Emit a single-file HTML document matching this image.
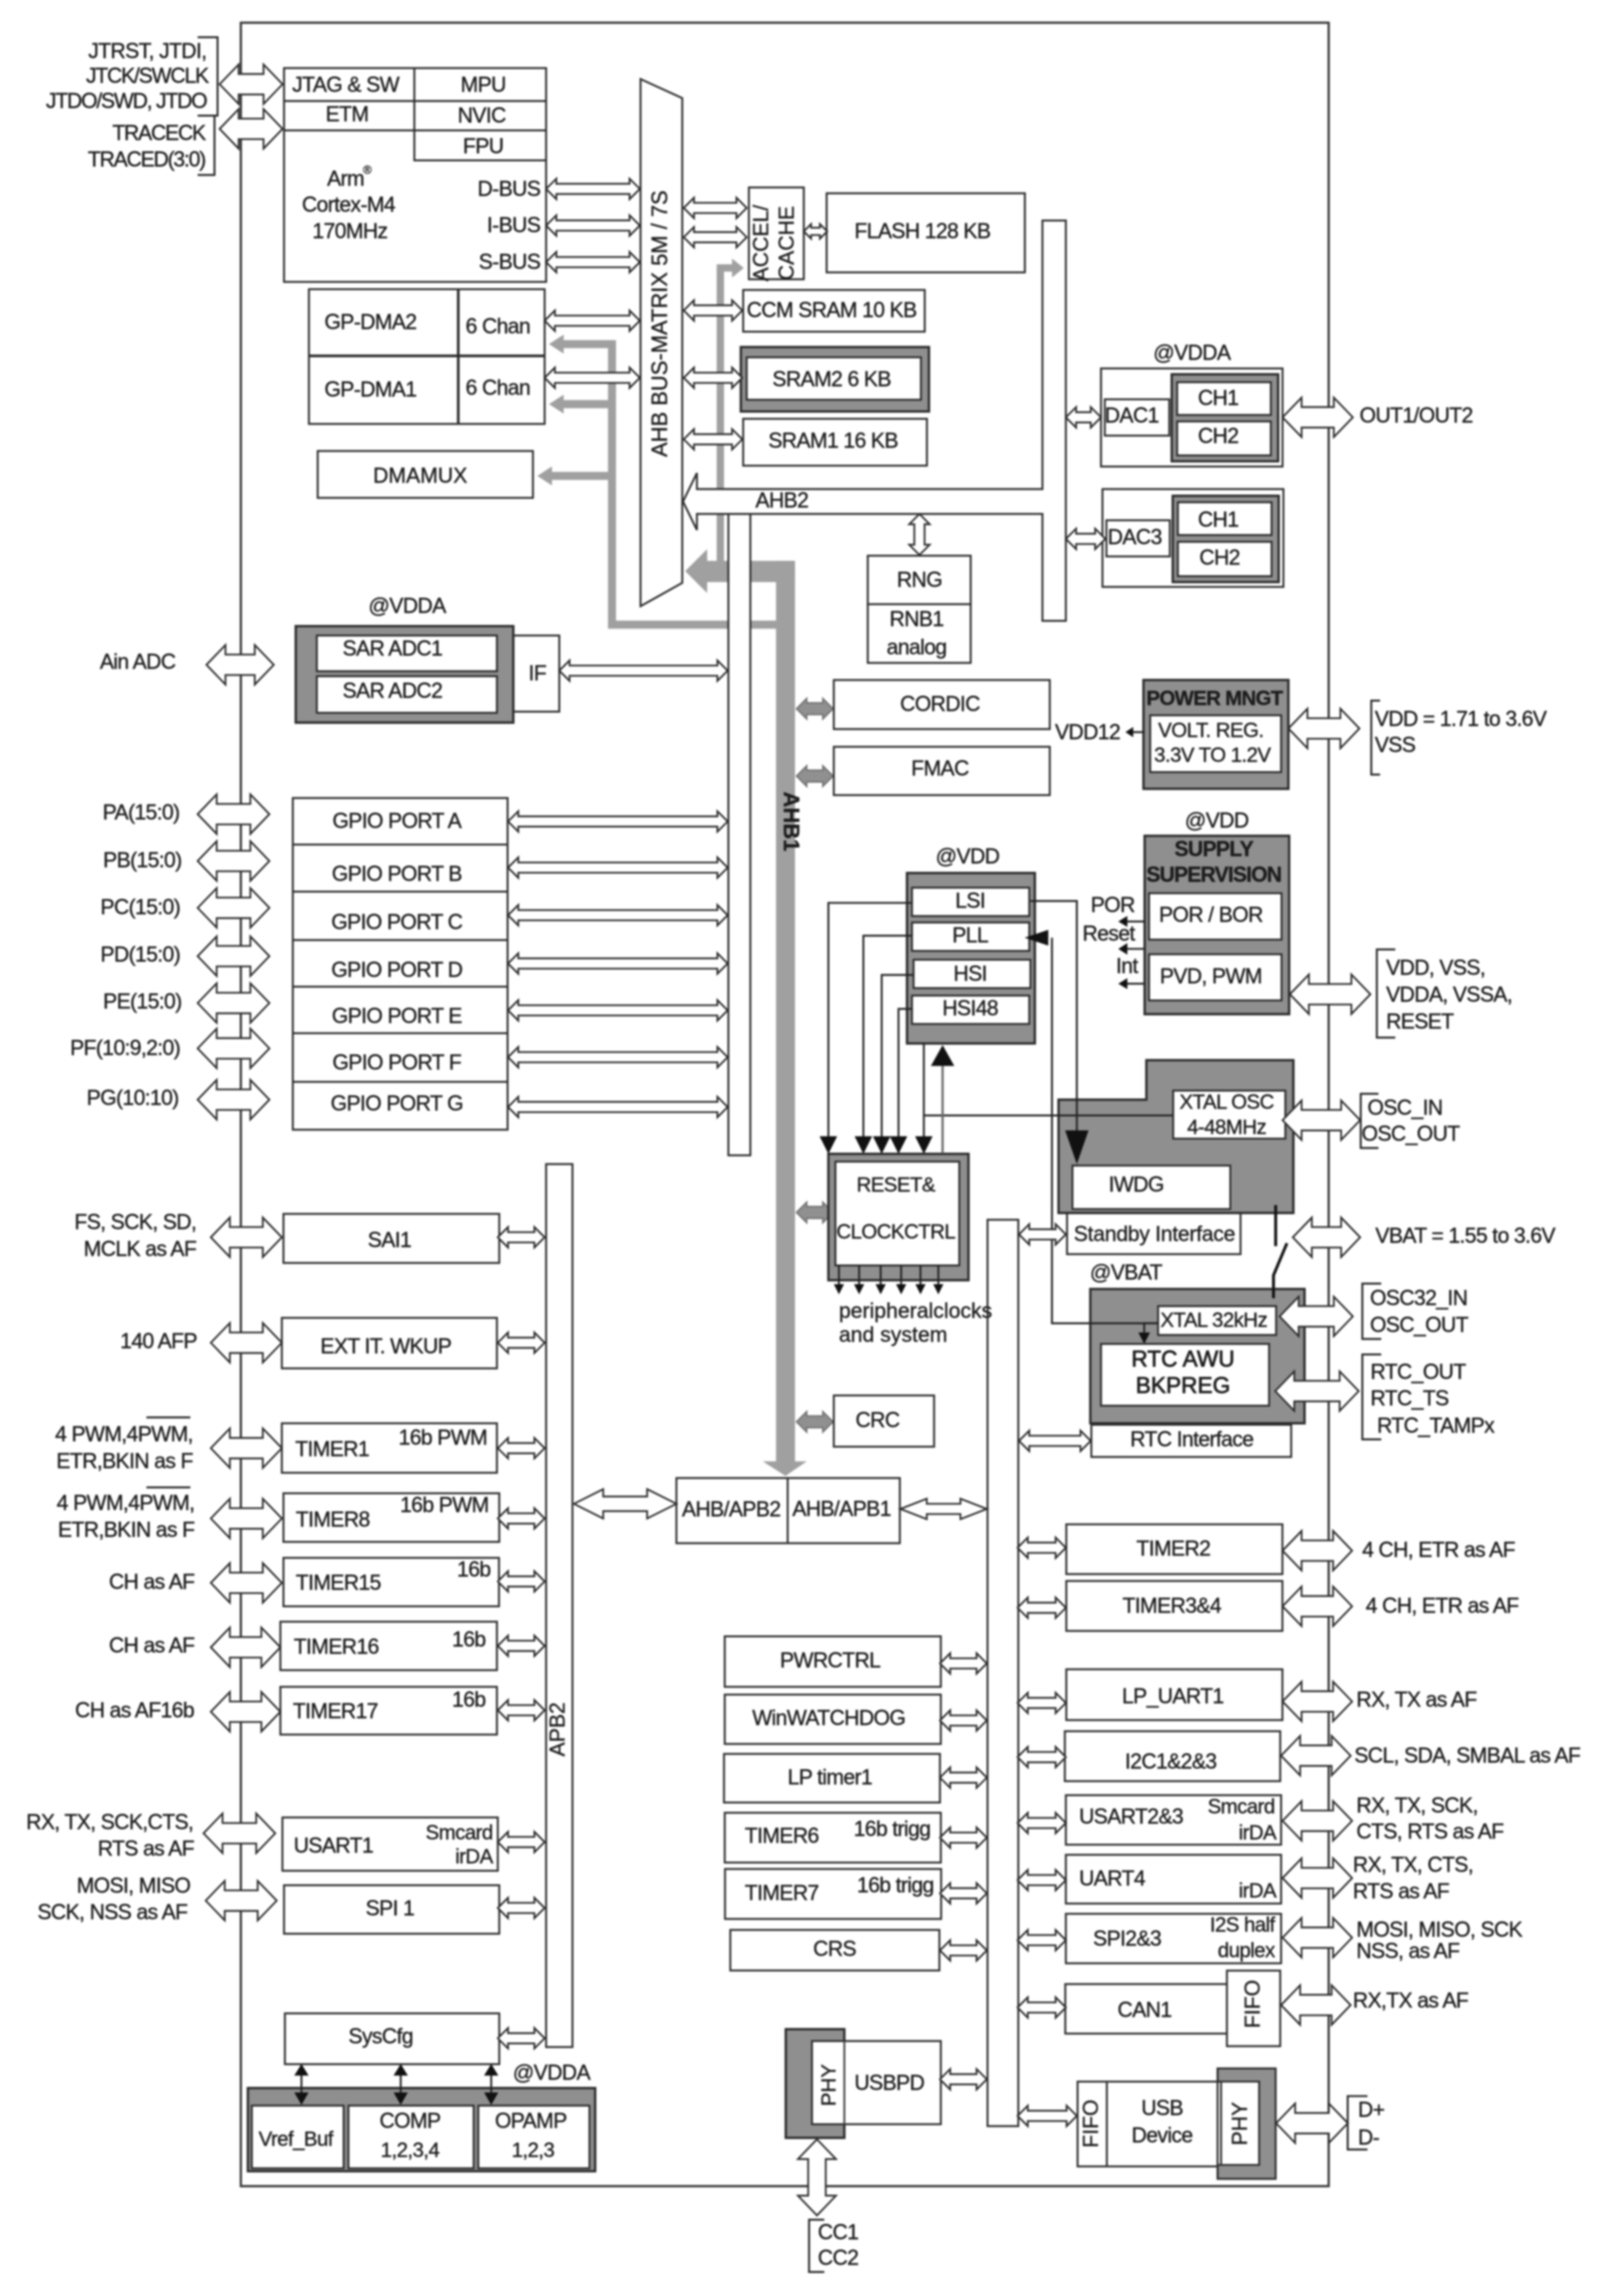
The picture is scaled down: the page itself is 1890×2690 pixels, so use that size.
<!DOCTYPE html>
<html><head><meta charset="utf-8"><title>Block diagram</title>
<style>
html,body{margin:0;padding:0;background:#fff;width:1890px;height:2690px;overflow:hidden}
svg{display:block;filter:blur(1.1px)}
text{font-family:"Liberation Sans",sans-serif;font-size:14.5px;letter-spacing:-.45px;fill:#1c1c1c;dominant-baseline:central;stroke:#1c1c1c;stroke-width:.22px}
.m{text-anchor:middle}.e{text-anchor:end}
.s{font-size:14px;letter-spacing:-.4px}
.b{font-weight:bold}
.r{font-size:15px;letter-spacing:0}
.t{letter-spacing:-.85px}
.box rect,.box path,.box polygon{fill:#fff;stroke:#2a2a2a;stroke-width:1.3}
.g rect,.g polygon{fill:#8f8f8f;stroke:#2a2a2a;stroke-width:1.6}
.ar path{fill:#fff;stroke:#2a2a2a;stroke-width:1.2}
.ln path{fill:none;stroke:#222;stroke-width:1.3}
.bk polygon{fill:#111;stroke:none}
</style></head><body>
<svg width="1890" height="2690" viewBox="0 0 1101.7 1568" xmlns="http://www.w3.org/2000/svg">
<rect width="1101.7" height="1568" fill="#fff"/>
<!-- frame -->
<rect x="164.5" y="15.5" width="743" height="1477.5" fill="none" stroke="#333" stroke-width="1.5"/>
<!-- grey buses -->
<g fill="#a0a0a0" stroke="none">
<path d="M384 235H418V426.6H531M384 276H418M374 325H418" fill="none" stroke="#a0a0a0" stroke-width="5.5"/>
<polygon points="375,235 385,228.5 385,241.5"/><polygon points="375,276 385,269.5 385,282.5"/><polygon points="367,325 377,318.5 377,331.5"/>
<rect x="482" y="383" width="61" height="14.5"/><rect x="530" y="383" width="13" height="616"/>
<polygon points="521,998 551,998 536.5,1008"/><polygon points="468,390 483,375 483,405"/>
<path d="M492 385V183H502" fill="none" stroke="#a0a0a0" stroke-width="5"/>
<polygon points="508,183 500,176.5 500,189.5"/>
</g>
<!-- grey bidirectional -->
<g fill="#909090" stroke="#707070" stroke-width="1">
<path d="M544 484l7-7v3h11v-3l7 7-7 7v-3h-11v3z"/><path d="M544 530l7-7v3h11v-3l7 7-7 7v-3h-11v3z"/>
<path d="M544 828l7-7v3h11v-3l7 7-7 7v-3h-11v3z"/><path d="M544 971l7-7v3h11v-3l7 7-7 7v-3h-11v3z"/>
</g>
<!-- plain boxes -->
<g class="box">
<polygon points="437.5,54 466,67 466,398 437.5,414"/>
<path d="M466.5 342.5L476 323V334H712V150.6H728V424H712V351H476V362Z"/>
<rect x="497.5" y="351" width="15" height="438"/>
<rect x="373" y="795" width="18" height="603"/>
<rect x="674.5" y="833" width="21" height="619"/>
<rect x="194" y="46.5" width="179" height="146"/>
<path d="M194 69H373M194 89H373M283 46.5V109.5H373" style="fill:none"/>
<rect x="211" y="197.5" width="161" height="92"/>
<path d="M211 243H372M313 197.5V289.5" style="fill:none;stroke-width:1.8"/>
<rect x="217" y="308" width="147" height="32"/>
<rect x="511.5" y="128" width="37.5" height="62.7"/>
<rect x="564.6" y="132" width="135.4" height="54"/>
<rect x="507.6" y="198" width="124" height="28.5"/>
<rect x="507.6" y="286" width="125.5" height="32"/>
<rect x="592.7" y="379.5" width="70.3" height="73.2"/>
<path d="M592.7 412.6H663" style="fill:none"/>
<rect x="752" y="251.6" width="124" height="67"/>
<rect x="754.6" y="272.7" width="44" height="24.8"/>
<rect x="753" y="334" width="123.6" height="66.8"/>
<rect x="755.7" y="355.3" width="43.3" height="24.7"/>
<rect x="350.6" y="434" width="31.4" height="52"/>
<rect x="569.5" y="464.4" width="147.5" height="33.5"/>
<rect x="569.5" y="510" width="147.5" height="33"/>
<rect x="200" y="545" width="146.7" height="226.5"/>
<path d="M200 576.8H346.7M200 608.9H346.7M200 642H346.7M200 673.8H346.7M200 705.6H346.7M200 738.8H346.7" style="fill:none"/>
<rect x="193.6" y="829" width="147.4" height="33.5"/>
<rect x="192.5" y="900" width="146.9" height="34.5"/>
<rect x="192.5" y="972" width="146.9" height="33.8"/>
<rect x="193.6" y="1019.8" width="147.4" height="33.2"/>
<rect x="193.6" y="1063.9" width="147.2" height="33.1"/>
<rect x="191.5" y="1107.5" width="147.9" height="33.1"/>
<rect x="191.5" y="1152" width="147.9" height="32.6"/>
<rect x="192.9" y="1241.2" width="147.1" height="36.4"/>
<rect x="194" y="1287.5" width="147" height="33.1"/>
<rect x="194.6" y="1375" width="146.4" height="34.7"/>
<rect x="462" y="1009.4" width="152.6" height="44.5"/>
<path d="M538 1009.4V1053.9" style="fill:none"/>
<rect x="569.5" y="953" width="68.5" height="35"/>
<rect x="495" y="1117.5" width="147.6" height="34.5"/>
<rect x="495" y="1157.3" width="147.6" height="33.7"/>
<rect x="494.5" y="1197.8" width="147.5" height="33.2"/>
<rect x="495" y="1238" width="147.6" height="34"/>
<rect x="495.2" y="1276.4" width="147.6" height="34.1"/>
<rect x="498.8" y="1318" width="142.8" height="27.7"/>
<rect x="728.3" y="1041" width="147.6" height="34"/>
<rect x="728.3" y="1079.7" width="147.6" height="34.1"/>
<rect x="728.3" y="1140" width="147.6" height="34.7"/>
<rect x="727.3" y="1182.3" width="147.1" height="34.1"/>
<rect x="728" y="1226" width="147" height="33.8"/>
<rect x="728" y="1266.7" width="147" height="33.3"/>
<rect x="728" y="1307" width="147" height="33.8"/>
<rect x="727.6" y="1355" width="110.4" height="33.8"/>
<rect x="838" y="1345.8" width="36.4" height="51.6"/>
<rect x="728.8" y="828.4" width="118.5" height="28.1"/>
<rect x="745.4" y="973" width="136.5" height="22"/>
</g>
<!-- grey groups -->
<g class="g">
<rect x="506" y="237" width="128.5" height="44"/>
<rect x="800.3" y="255.6" width="72.7" height="59.4"/>
<rect x="801" y="338.6" width="72.4" height="58.9"/>
<rect x="202" y="427.6" width="148.6" height="65.9"/>
<rect x="781" y="464.4" width="99" height="74.3"/>
<rect x="781.8" y="570.8" width="98.7" height="121.8"/>
<rect x="619.5" y="596.2" width="87.3" height="116.4"/>
<rect x="565.8" y="788" width="95.7" height="86.3"/>
<polygon points="723,751 783,751 783,724 883.4,724 883.4,828.4 723,828.4"/>
<rect x="744.7" y="880.3" width="146.3" height="91.7"/>
<rect x="169.3" y="1426" width="237.2" height="56.8"/>
<rect x="536.7" y="1385.8" width="40" height="74.2"/>
</g>
<g class="box">
<rect x="510" y="244" width="119" height="29"/>
<rect x="804" y="261" width="64" height="22.4"/><rect x="804" y="287.8" width="64" height="23.2"/>
<rect x="804.5" y="343" width="64" height="22.4"/><rect x="804.5" y="370" width="64" height="23.5"/>
<rect x="216.4" y="434" width="123" height="24.4"/><rect x="216.4" y="461.8" width="123" height="25"/>
<rect x="785.6" y="488.5" width="89.4" height="38.8"/>
<rect x="784.8" y="610" width="90.5" height="31.7"/><rect x="784.8" y="651.7" width="90.5" height="31.5"/>
<rect x="622.9" y="606.2" width="80.1" height="19.4"/><rect x="622.9" y="630" width="80.1" height="19.4"/>
<rect x="624" y="655.4" width="79.8" height="19.4"/><rect x="622.9" y="679.9" width="80.1" height="19.4"/>
<rect x="570.6" y="793.3" width="84.6" height="70.9"/>
<rect x="801.3" y="744.8" width="76.6" height="32.8"/>
<rect x="732.5" y="796" width="107.8" height="29.7"/>
<rect x="791" y="892" width="80.6" height="19.7"/>
<rect x="752" y="917.8" width="114.8" height="42.2"/>
<rect x="172" y="1438" width="62.7" height="42.8"/><rect x="238" y="1438" width="85.5" height="42.8"/><rect x="326.7" y="1438" width="75.9" height="42.8"/>
<rect x="554.6" y="1393.9" width="88" height="56.8" style="fill:#fff"/>
<path d="M576.7 1393.9V1450.7" style="fill:none;stroke:#444"/>
<rect x="736" y="1421.6" width="98" height="57.9"/>
<path d="M756 1421.6V1479.5" style="fill:none"/>
</g>
<path d="M831.6 1412.6H871.3V1488H831.6V1478.5H860V1421.6H831.6Z" fill="#8f8f8f" stroke="#2a2a2a" stroke-width="1.3"/>
<path d="M831.6 1412.6V1488" stroke="#2a2a2a" stroke-width="1.3" fill="none"/>
<!-- thin lines -->
<g class="ln">
<path d="M135 25.4H148.6V79H135M146.5 79V119.5H135"/>
<path d="M623 616.6H565.8V778M623 639H589.7V778M624 665.8H602.2V778M623 689H613.7V778"/>
<path d="M631 712.6V778M631 761.8H801"/>
<path d="M703.8 615.3H735.5V775"/>
<path d="M718.5 640.4V903.7H791"/>
<path d="M791 903.7H781.5V910"/>
<path d="M781.8 500H771M781.8 629.3H768M781.8 648H768M781.8 671.8H768"/>
<path d="M573 864V878M586.8 864V878M601.5 864V878M615.5 864V878M628.7 864V878M640.9 864V878"/>
<path d="M205.9 1412V1434M273.7 1412V1434M335.5 1412V1434"/>
<path d="M942.6 478.5H936.6V529H942.6M953 648.4H940.4V708.6H953M941.5 747H929.4V784H941.5M943.4 876.6H930.5V914.4H943.4M943.4 925H930.5V983H943.4M934 1431.5H920.5V1468H934M563 1515.9H552.6V1551.6H563"/>
<path d="M100 968H130M100 1015.8H130"/>
</g>
<path d="M643.8 787V728" stroke="#666" stroke-width="1.5" fill="none"/>
<path d="M871.3 823V851M879 849L869.8 871V886.6" stroke="#111" stroke-width="2" fill="none"/>
<g class="bk">
<polygon points="559.8,776 571.8,776 565.8,788"/><polygon points="583.7,776 595.7,776 589.7,788"/><polygon points="596.2,776 608.2,776 602.2,788"/><polygon points="607.7,776 619.7,776 613.7,788"/><polygon points="625,776 637,776 631,788"/>
<polygon points="635.8,728 651.8,728 643.8,713.7"/>
<polygon points="727.5,772 743.5,772 735.5,795"/>
<polygon points="699.8,640.4 716,635 716,645.8"/>
<polygon points="777.5,910 785.5,910 781.5,917.8"/>
<polygon points="768.7,500 774,496.5 774,503.5"/>
<polygon points="763.8,629.3 770,625.5 770,633"/><polygon points="763.8,648 770,644 770,652"/><polygon points="763.8,671.8 770,668 770,675.5"/>
<polygon points="569.5,877 576.5,877 573,884"/><polygon points="583.3,877 590.3,877 586.8,884"/><polygon points="598,877 605,877 601.5,884"/><polygon points="612,877 619,877 615.5,884"/><polygon points="625.2,877 632.2,877 628.7,884"/><polygon points="637.4,877 644.4,877 640.9,884"/>
<polygon points="205.9,1409.5 201,1417.5 210.8,1417.5"/><polygon points="201,1429 210.8,1429 205.9,1437.5"/>
<polygon points="273.7,1409.5 268.8,1417.5 278.6,1417.5"/><polygon points="268.8,1429 278.6,1429 273.7,1437.5"/>
<polygon points="335.5,1409.5 330.6,1417.5 340.4,1417.5"/><polygon points="330.6,1429 340.4,1429 335.5,1437.5"/>
</g>
<!-- arrows -->
<g class="ar">
<path d="M373 129l7-7v3.5h50v-3.5l7 7-7 7v-3.5h-50v3.5z"/><path d="M373 154l7-7v3.5h50v-3.5l7 7-7 7v-3.5h-50v3.5z"/><path d="M373 179l7-7v3.5h50v-3.5l7 7-7 7v-3.5h-50v3.5z"/>
<path d="M372 219l7-7v3.5h51v-3.5l7 7-7 7v-3.5h-51v3.5z"/><path d="M372 258l7-7v3.5h51v-3.5l7 7-7 7v-3.5h-51v3.5z"/>
<path d="M467 142l7-7v3.5h29v-3.5l7 7-7 7v-3.5h-29v3.5z"/><path d="M467 162l7-7v3.5h29v-3.5l7 7-7 7v-3.5h-29v3.5z"/>
<path d="M467 212l7-7v3.5h26v-3.5l7 7-7 7v-3.5h-26v3.5z"/><path d="M467 258l7-7v3.5h26v-3.5l7 7-7 7v-3.5h-26v3.5z"/><path d="M467 300l7-7v3.5h26v-3.5l7 7-7 7v-3.5h-26v3.5z"/>
<path d="M549 158l5-5v2.5h6v-2.5l5 5-5 5v-2.5h-6v2.5z"/>
<path d="M628 351l7 7h-3.5v14h3.5l-7 7-7-7h3.5v-14h-3.5z"/>
<path d="M728 285l7-7v3.5h10v-3.5l7 7-7 7v-3.5h-10v3.5z"/><path d="M728 368l7-7v3.5h13v-3.5l7 7-7 7v-3.5h-13v3.5z"/>
<path d="M382 458l7-7v3.5h101v-3.5l7 7-7 7v-3.5h-101v3.5z"/>
<path d="M347 561l7-7v3.5h136v-3.5l7 7-7 7v-3.5h-136v3.5z"/><path d="M347 592.5l7-7v3.5h136v-3.5l7 7-7 7v-3.5h-136v3.5z"/><path d="M347 625l7-7v3.5h136v-3.5l7 7-7 7v-3.5h-136v3.5z"/><path d="M347 658l7-7v3.5h136v-3.5l7 7-7 7v-3.5h-136v3.5z"/><path d="M347 690l7-7v3.5h136v-3.5l7 7-7 7v-3.5h-136v3.5z"/><path d="M347 722l7-7v3.5h136v-3.5l7 7-7 7v-3.5h-136v3.5z"/><path d="M347 756l7-7v3.5h136v-3.5l7 7-7 7v-3.5h-136v3.5z"/>
<path d="M340 845l7-7v3.5h18v-3.5l7 7-7 7v-3.5h-18v3.5z"/><path d="M340 917l7-7v3.5h18v-3.5l7 7-7 7v-3.5h-18v3.5z"/><path d="M340 989l7-7v3.5h18v-3.5l7 7-7 7v-3.5h-18v3.5z"/><path d="M340 1037l7-7v3.5h18v-3.5l7 7-7 7v-3.5h-18v3.5z"/><path d="M340 1080l7-7v3.5h18v-3.5l7 7-7 7v-3.5h-18v3.5z"/><path d="M340 1124l7-7v3.5h18v-3.5l7 7-7 7v-3.5h-18v3.5z"/><path d="M340 1168l7-7v3.5h18v-3.5l7 7-7 7v-3.5h-18v3.5z"/><path d="M340 1258l7-7v3.5h18v-3.5l7 7-7 7v-3.5h-18v3.5z"/><path d="M340 1303l7-7v3.5h18v-3.5l7 7-7 7v-3.5h-18v3.5z"/><path d="M340 1392l7-7v3.5h18v-3.5l7 7-7 7v-3.5h-18v3.5z"/>
<path d="M642 1136l7-7v3.5h18v-3.5l7 7-7 7v-3.5h-18v3.5z"/><path d="M642 1175l7-7v3.5h18v-3.5l7 7-7 7v-3.5h-18v3.5z"/><path d="M642 1214l7-7v3.5h18v-3.5l7 7-7 7v-3.5h-18v3.5z"/><path d="M642 1255l7-7v3.5h18v-3.5l7 7-7 7v-3.5h-18v3.5z"/><path d="M642 1293l7-7v3.5h18v-3.5l7 7-7 7v-3.5h-18v3.5z"/><path d="M642 1332l7-7v3.5h18v-3.5l7 7-7 7v-3.5h-18v3.5z"/><path d="M642 1420l7-7v3.5h18v-3.5l7 7-7 7v-3.5h-18v3.5z"/>
<path d="M695 1057l7-7v3.5h19v-3.5l7 7-7 7v-3.5h-19v3.5z"/><path d="M695 1098l7-7v3.5h19v-3.5l7 7-7 7v-3.5h-19v3.5z"/><path d="M695 1163l7-7v3.5h19v-3.5l7 7-7 7v-3.5h-19v3.5z"/><path d="M695 1200l7-7v3.5h19v-3.5l7 7-7 7v-3.5h-19v3.5z"/><path d="M695 1245l7-7v3.5h19v-3.5l7 7-7 7v-3.5h-19v3.5z"/><path d="M695 1284l7-7v3.5h19v-3.5l7 7-7 7v-3.5h-19v3.5z"/><path d="M695 1325l7-7v3.5h19v-3.5l7 7-7 7v-3.5h-19v3.5z"/><path d="M695 1371l7-7v3.5h19v-3.5l7 7-7 7v-3.5h-19v3.5z"/>
<path d="M695 1445l7-7v3.5h26.5v-3.5l7 7-7 7v-3.5h-26.5v3.5z"/>
<path d="M696 843l7-7v3.5h18v-3.5l7 7-7 7v-3.5h-18v3.5z"/>
<path d="M696 984l7-7v3.5h35v-3.5l7 7-7 7v-3.5h-35v3.5z"/>
<path d="M615 1030.5l18-7v3.5h23v-3.5l18 7-18 7v-3.5h-23v3.5z"/>
<path d="M392 1027l20-10v5h30v-5l20 10-20 10v-5h-30v5z"/>
<!-- big -->
<path d="M150 57.5l13-13.5v6.5h17v-6.5l13 13.5-13 13.5v-6.5h-17v6.5z"/>
<path d="M150 88l13-13.5v6.5h17v-6.5l13 13.5-13 13.5v-6.5h-17v6.5z"/>
<path d="M141 454l13-13.5v6.5h20v-6.5l13 13.5-13 13.5v-6.5h-20v6.5z"/>
<path d="M135 556l13-13.5v6.5h23v-6.5l13 13.5-13 13.5v-6.5h-23v6.5z"/><path d="M135 588l13-13.5v6.5h23v-6.5l13 13.5-13 13.5v-6.5h-23v6.5z"/><path d="M135 620l13-13.5v6.5h23v-6.5l13 13.5-13 13.5v-6.5h-23v6.5z"/><path d="M135 653l13-13.5v6.5h23v-6.5l13 13.5-13 13.5v-6.5h-23v6.5z"/><path d="M135 685l13-13.5v6.5h23v-6.5l13 13.5-13 13.5v-6.5h-23v6.5z"/><path d="M135 716l13-13.5v6.5h23v-6.5l13 13.5-13 13.5v-6.5h-23v6.5z"/><path d="M135 751l13-13.5v6.5h23v-6.5l13 13.5-13 13.5v-6.5h-23v6.5z"/>
<path d="M144 845l13-13.5v6.5h22.5v-6.5l13 13.5-13 13.5v-6.5h-22.5v6.5z"/><path d="M144 917l13-13.5v6.5h22.5v-6.5l13 13.5-13 13.5v-6.5h-22.5v6.5z"/><path d="M144 989l13-13.5v6.5h22.5v-6.5l13 13.5-13 13.5v-6.5h-22.5v6.5z"/><path d="M144 1037l13-13.5v6.5h22.5v-6.5l13 13.5-13 13.5v-6.5h-22.5v6.5z"/><path d="M144 1081l13-13.5v6.5h22.5v-6.5l13 13.5-13 13.5v-6.5h-22.5v6.5z"/><path d="M144 1125l13-13.5v6.5h21.5v-6.5l13 13.5-13 13.5v-6.5h-21.5v6.5z"/><path d="M144 1169l13-13.5v6.5h21.5v-6.5l13 13.5-13 13.5v-6.5h-21.5v6.5z"/>
<path d="M139 1252l13-13.5v6.5h23v-6.5l13 13.5-13 13.5v-6.5h-23v6.5z"/>
<path d="M140.5 1298l13-13.5v6.5h22.5v-6.5l13 13.5-13 13.5v-6.5h-22.5v6.5z"/>
<path d="M876 285l13-13.5v6.5h22v-6.5l13 13.5-13 13.5v-6.5h-22v6.5z"/>
<path d="M880 497.5l13-13.5v6.5h22.5v-6.5l13 13.5-13 13.5v-6.5h-22.5v6.5z"/>
<path d="M881 679l13-13.5v6.5h29v-6.5l13 13.5-13 13.5v-6.5h-29v6.5z"/>
<path d="M876 765l13-13.5v6.5h27v-6.5l13 13.5-13 13.5v-6.5h-27v6.5z"/>
<path d="M883 845l13-13.5v6.5h20v-6.5l13 13.5-13 13.5v-6.5h-20v6.5z"/>
<path d="M874 899l13-13.5v6.5h24v-6.5l13 13.5-13 13.5v-6.5h-24v6.5z"/>
<path d="M871 950l13-13.5v6.5h31v-6.5l13 13.5-13 13.5v-6.5h-31v6.5z"/>
<path d="M876 1059l13-13.5v6.5h21.5v-6.5l13 13.5-13 13.5v-6.5h-21.5v6.5z"/><path d="M876 1097l13-13.5v6.5h21.5v-6.5l13 13.5-13 13.5v-6.5h-21.5v6.5z"/><path d="M876 1162l13-13.5v6.5h21.5v-6.5l13 13.5-13 13.5v-6.5h-21.5v6.5z"/><path d="M875 1199l13-13.5v6.5h21.5v-6.5l13 13.5-13 13.5v-6.5h-21.5v6.5z"/><path d="M876 1243.5l13-13.5v6.5h21.5v-6.5l13 13.5-13 13.5v-6.5h-21.5v6.5z"/><path d="M876 1282.6l13-13.5v6.5h21.5v-6.5l13 13.5-13 13.5v-6.5h-21.5v6.5z"/><path d="M876 1323.3l13-13.5v6.5h21.5v-6.5l13 13.5-13 13.5v-6.5h-21.5v6.5z"/><path d="M875 1369.3l13-13.5v6.5h21.5v-6.5l13 13.5-13 13.5v-6.5h-21.5v6.5z"/>
<path d="M871.6 1450l13-13.5v6.5h23v-6.5l13 13.5-13 13.5v-6.5h-23v6.5z"/>
<path d="M558 1461l13 13.5h-7v25h7l-13 13.5-13-13.5h7v-25h-7z"/>
</g>
<!-- text -->
<g>
<text class="e" x="141" y="35">JTRST, JTDI,</text><text class="e t" x="142" y="52">JTCK/SWCLK</text><text class="e t" x="141" y="69">JTDO/SWD, JTDO</text><text class="e t" x="140" y="91">TRACECK</text><text class="e t" x="140" y="109">TRACED(3:0)</text>
<text class="m" x="236" y="58">JTAG &amp; SW</text><text class="m" x="330" y="58">MPU</text><text class="m" x="237" y="78">ETM</text><text class="m" x="329" y="79">NVIC</text><text class="m" x="330" y="100">FPU</text>
<text class="m" x="236" y="122">Arm</text><text x="248" y="116" style="font-size:8px">®</text><text class="m" x="238" y="140">Cortex-M4</text><text class="m" x="239" y="158">170MHz</text>
<text class="e" x="369" y="129">D-BUS</text><text class="e" x="369" y="154">I-BUS</text><text class="e" x="369" y="179">S-BUS</text>
<text class="m" x="253" y="220">GP-DMA2</text><text class="m" x="340" y="223">6 Chan</text><text class="m" x="253" y="266">GP-DMA1</text><text class="m" x="340" y="265">6 Chan</text>
<text class="m" x="287" y="325" style="letter-spacing:0">DMAMUX</text>
<text class="m r" transform="translate(451,221) rotate(-90)">AHB BUS-MATRIX 5M / 7S</text>
<text class="m r" transform="translate(520,166) rotate(-90)" style="font-size:14.5px">ACCEL/</text><text class="m r" transform="translate(537.5,166) rotate(-90)" style="font-size:14.5px">CACHE</text>
<text class="m" x="630" y="158">FLASH 128 KB</text><text class="m" x="568" y="212">CCM SRAM 10 KB</text><text class="m" x="568" y="259">SRAM2 6 KB</text><text class="m" x="569" y="301">SRAM1 16 KB</text>
<text class="m" x="534" y="342">AHB2</text>
<text class="m" x="628" y="396">RNG</text><text class="m" x="626" y="423">RNB1</text><text class="m" x="626" y="442">analog</text>
<text class="m" x="814" y="241">@VDDA</text><text class="m" x="773" y="284">DAC1</text><text class="m" x="832" y="272">CH1</text><text class="m" x="832" y="298">CH2</text>
<text class="m" x="775" y="367">DAC3</text><text class="m" x="832" y="355">CH1</text><text class="m" x="833" y="381">CH2</text>
<text x="928.6" y="284">OUT1/OUT2</text>
<text class="m" x="278" y="414">@VDDA</text><text class="m" x="268" y="443">SAR ADC1</text><text class="m" x="268" y="472">SAR ADC2</text><text class="m" x="367" y="460">IF</text>
<text class="m" x="94" y="452">Ain ADC</text>
<text class="m" x="642" y="481">CORDIC</text><text class="m" x="642" y="525">FMAC</text>
<text class="m b" transform="translate(540,561) rotate(90)" style="letter-spacing:0;font-size:15px">AHB1</text>
<text class="m b" x="829.5" y="477" style="font-size:14px;letter-spacing:-.5px">POWER MNGT</text><text class="m s" x="827" y="499">VOLT. REG.</text><text class="m s" x="828" y="516">3.3V TO 1.2V</text>
<text class="e" x="765" y="500">VDD12</text>
<text x="939" y="491">VDD = 1.71 to 3.6V</text><text x="939" y="509">VSS</text>
<text class="e" x="122.6" y="555">PA(15:0)</text><text class="e" x="124" y="587.5">PB(15:0)</text><text class="e" x="123" y="619.6">PC(15:0)</text><text class="e" x="123" y="652">PD(15:0)</text><text class="e" x="124" y="684">PE(15:0)</text><text class="e" x="123" y="715.7">PF(10:9,2:0)</text><text class="e" x="122" y="749.8">PG(10:10)</text>
<text class="m" x="271" y="560.7">GPIO PORT A</text><text class="m" x="271" y="597">GPIO PORT B</text><text class="m" x="271" y="629.7">GPIO PORT C</text><text class="m" x="271" y="662.5">GPIO PORT D</text><text class="m" x="271" y="694">GPIO PORT E</text><text class="m" x="271" y="725.7">GPIO PORT F</text><text class="m" x="271" y="753.8">GPIO PORT G</text>
<text class="e" x="134" y="834.7">FS, SCK, SD,</text><text class="e" x="134" y="853">MCLK as AF</text><text class="m" x="266" y="847">SAI1</text>
<text class="e" x="134.5" y="916">140 AFP</text><text class="m" x="263.5" y="919.4">EXT IT. WKUP</text>
<text class="e" x="131.7" y="979.6">4 PWM,4PWM,</text><text class="e" x="131.7" y="998">ETR,BKIN as F</text><text x="201.6" y="989.7">TIMER1</text><text class="e" x="332.7" y="982">16b PWM</text>
<text class="e" x="132.8" y="1026.5">4 PWM,4PWM,</text><text class="e" x="132.8" y="1045">ETR,BKIN as F</text><text x="202" y="1038">TIMER8</text><text class="e" x="333.7" y="1028">16b PWM</text>
<text class="e" x="132.8" y="1080.4">CH as AF</text><text x="202" y="1081">TIMER15</text><text class="e" x="335" y="1072">16b</text>
<text class="e" x="132.8" y="1123.8">CH as AF</text><text x="200.6" y="1124.7">TIMER16</text><text class="e" x="331.6" y="1119.8">16b</text>
<text class="e" x="132.5" y="1168">CH as AF16b</text><text x="200" y="1168.8">TIMER17</text><text class="e" x="331.6" y="1160.8">16b</text>
<text class="e" x="132" y="1244.5">RX, TX, SCK,CTS,</text><text class="e" x="132.5" y="1262.7">RTS as AF</text><text x="200.6" y="1260.4">USART1</text><text class="e s" x="336.5" y="1251.8">Smcard</text><text class="e s" x="336.5" y="1268">irDA</text>
<text class="e" x="130" y="1288">MOSI, MISO</text><text class="e" x="128" y="1306">SCK, NSS as AF</text><text class="m" x="266.3" y="1303.4">SPI 1</text>
<text class="m" x="260" y="1390.8">SysCfg</text><text class="m" x="376.6" y="1415.6">@VDDA</text>
<text class="m s" x="202" y="1461">Vref_Buf</text><text class="m" x="280" y="1448.4">COMP</text><text class="m s" x="280" y="1468.6">1,2,3,4</text><text class="m" x="362.5" y="1448.4">OPAMP</text><text class="m s" x="364" y="1468.6">1,2,3</text>
<text class="m r" transform="translate(381,1181) rotate(-90)" style="font-size:14.5px">APB2</text>
<text class="m" x="499.4" y="1031">AHB/APB2</text><text class="m" x="574.8" y="1030.5">AHB/APB1</text>
<text class="m" x="567" y="1134">PWRCTRL</text><text class="m" x="566" y="1173.4">WinWATCHDOG</text><text class="m" x="566.8" y="1214">LP timer1</text>
<text x="508.7" y="1253.7">TIMER6</text><text class="e" x="635.4" y="1249.3">16b trigg</text><text x="508.7" y="1292.8">TIMER7</text><text class="e" x="637.7" y="1287.5">16b trigg</text>
<text class="m" x="570" y="1331">CRS</text>
<text class="m" x="607.4" y="1422.6">USBPD</text><text class="m r" transform="translate(566.4,1424) rotate(-90)" style="font-size:14px">PHY</text>
<text x="558.6" y="1524.5">CC1</text><text x="558.6" y="1542">CC2</text>
<text class="m" x="801.4" y="1057.6">TIMER2</text><text class="m" x="800.3" y="1096.6">TIMER3&amp;4</text><text class="m" x="801" y="1158.5">LP_UART1</text><text class="m" x="799.6" y="1203">I2C1&amp;2&amp;3</text>
<text x="737" y="1240.6">USART2&amp;3</text><text class="e s" x="870.6" y="1234">Smcard</text><text class="e s" x="871.6" y="1251.8">irDA</text>
<text x="737" y="1283">UART4</text><text class="e s" x="871.6" y="1291.5">irDA</text>
<text class="m" x="769.8" y="1324">SPI2&amp;3</text><text class="e s" x="870.6" y="1314.7">I2S half</text><text class="e s" x="870.6" y="1332.2">duplex</text>
<text class="m" x="781.7" y="1372.6">CAN1</text><text class="m r" transform="translate(855.8,1368.6) rotate(-90)" style="font-size:14.5px">FIFO</text>
<text class="m r" transform="translate(745.2,1450.3) rotate(-90)" style="font-size:14.5px">FIFO</text><text class="m" x="793.7" y="1439.8">USB</text><text class="m" x="793.7" y="1458.3">Device</text><text class="m r" transform="translate(847,1450.3) rotate(-90)" style="font-size:14.5px">PHY</text>
<text x="930.3" y="1058.6">4 CH, ETR as AF</text><text x="932.8" y="1096.6">4 CH, ETR as AF</text><text x="926.4" y="1161">RX, TX as AF</text><text x="925" y="1198.9">SCL, SDA, SMBAL as AF</text><text x="926.4" y="1233">RX, TX, SCK,</text><text x="926.4" y="1251">CTS, RTS as AF</text><text x="924" y="1273.6">RX, TX, CTS,</text><text x="924" y="1291.8">RTS as AF</text><text x="926.4" y="1318">MOSI, MISO, SCK</text><text x="926.4" y="1332.5">NSS, as AF</text><text x="924" y="1366.3">RX,TX as AF</text><text x="927.5" y="1441">D+</text><text x="927.5" y="1460">D-</text>
<text class="m" x="831" y="560.4">@VDD</text><text class="m b" x="829" y="580" style="letter-spacing:-.5px">SUPPLY</text><text class="m b" x="829" y="597.5" style="letter-spacing:-.6px">SUPERVISION</text><text class="m" x="827" y="625">POR / BOR</text><text class="m" x="827" y="666.8">PVD, PWM</text>
<text class="e" x="775" y="618.3">POR</text><text class="e" x="775" y="637.7">Reset</text><text class="e" x="777" y="659.8">Int</text>
<text x="946.7" y="661">VDD, VSS,</text><text x="946.7" y="679.5">VDDA, VSSA,</text><text x="946.7" y="697.6">RESET</text>
<text class="m" x="660.8" y="584.8">@VDD</text><text class="m" x="662.6" y="615.3">LSI</text><text class="m" x="662.6" y="639">PLL</text><text class="m" x="662.6" y="665">HSI</text><text class="m" x="662.6" y="688.6">HSI48</text>
<text class="m s" x="611.8" y="809.3">RESET&amp;</text><text class="m s" x="611.8" y="841.5">CLOCKCTRL</text>
<text x="573" y="895.4" style="letter-spacing:0">peripheralclocks</text><text x="573" y="911.7" style="letter-spacing:0">and system</text>
<text class="m s" x="837.8" y="752.8">XTAL OSC</text><text class="m s" x="837.8" y="769.9">4-48MHz</text><text class="m" x="776" y="809">IWDG</text>
<text class="m" x="788.5" y="842.8" style="letter-spacing:-.2px">Standby Interface</text>
<text x="934" y="756.5">OSC_IN</text><text x="930" y="774.5">OSC_OUT</text>
<text x="939.4" y="844">VBAT = 1.55 to 3.6V</text>
<text class="m" x="769" y="869.2">@VBAT</text><text class="m s" x="829" y="901.7">XTAL 32kHz</text>
<text class="m" x="808" y="928" style="font-size:15.5px;letter-spacing:0;stroke-width:.45px">RTC AWU</text><text class="m" x="808" y="946" style="font-size:15.5px;letter-spacing:0;stroke-width:.45px">BKPREG</text>
<text class="m" x="814" y="983">RTC Interface</text>
<text x="935.7" y="886.6">OSC32_IN</text><text x="935.7" y="905">OSC_OUT</text><text x="936" y="937">RTC_OUT</text><text x="936" y="955">RTC_TS</text><text x="940.5" y="973.6">RTC_TAMPx</text>
<text class="m" x="599.3" y="970">CRC</text>
</g>
</svg>
</body></html>
